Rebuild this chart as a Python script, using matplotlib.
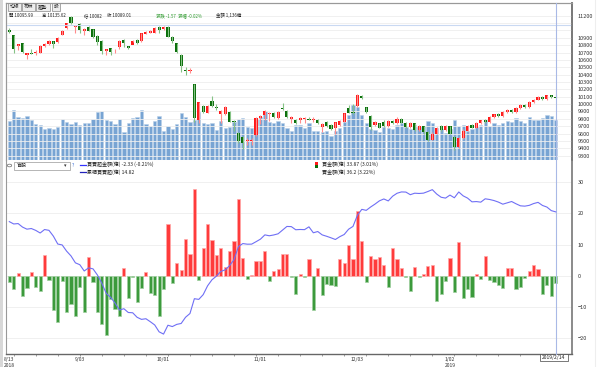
import numpy as np
import matplotlib.pyplot as plt
from matplotlib.patches import Rectangle

plt.rcParams['font.family'] = ['Noto Sans CJK TC', 'DejaVu Sans']

# daily candles (TAIEX), 2018/8/13 .. 2019/2/14
opens = [11006, 10938, 10789, 10825, 10671, 10694, 10689, 10698, 10793, 10811,
         10857, 10848, 10938, 11029, 11178, 11042, 11087, 10988, 11051, 11015,
         10925, 10861, 10721, 10757, 10717, 10771, 10870, 10789, 10802, 10870,
         10852, 10952, 10970, 10970, 11051, 11015, 11051, 10916, 10825, 10667,
         10463, 10450, 10269, 9785, 9979, 9884, 10043, 9966, 9866, 9862,
         9898, 9776, 9613, 9559, 9500, 9505, 9581, 9807, 9853, 9862,
         9884, 9807, 9952, 9911, 9803, 9785, 9785, 9800, 9800, 9790,
         9785, 9694, 9762, 9717, 9672, 9717, 9762, 9952, 9898, 9975,
         10110, 9957, 9839, 9717, 9740, 9760, 9700, 9770, 9740, 9800,
         9750, 9690, 9740, 9650, 9700, 9620, 9520, 9600, 9700, 9650,
         9700, 9560, 9420, 9540, 9640, 9720, 9680, 9740, 9790, 9760,
         9820, 9870, 9840, 9890, 9920, 9890, 9950, 9990, 9960, 10030,
         10060, 10100, 10070, 10120, 10095.99]
closes = [10979, 10744, 10816, 10712, 10689, 10680, 10707, 10789, 10811, 10857,
          10811, 10902, 10992, 11096, 11096, 11069, 11006, 11024, 10997, 10916,
          10848, 10726, 10744, 10712, 10726, 10861, 10825, 10757, 10852, 10825,
          10961, 10979, 10992, 11029, 11006, 11051, 10916, 10861, 10712, 10517,
          10450, 10463, 9807, 10033, 9889, 9975, 9975, 9943, 9907, 9966,
          9762, 9762, 9504, 9477, 9513, 9515, 9816, 9839, 9907, 9884,
          9821, 9898, 9939, 9830, 9830, 9740, 9807, 9810, 9790, 9805,
          9740, 9730, 9703, 9658, 9753, 9771, 9875, 9884, 9875, 10124,
          10080, 9898, 9694, 9762, 9680, 9700, 9770, 9740, 9800, 9750,
          9690, 9740, 9650, 9700, 9620, 9520, 9600, 9670, 9650, 9700,
          9600, 9420, 9540, 9640, 9700, 9680, 9740, 9780, 9760, 9820,
          9860, 9840, 9890, 9920, 9890, 9950, 9990, 9960, 10030, 10060,
          10100, 10070, 10120, 10090, 10089.01]
highs = [11029, 10938, 10816, 10825, 10698, 10748, 10734, 10798, 10825, 10870,
         10857, 10916, 11006, 11106, 11190, 11074, 11096, 11033, 11060, 11024,
         10938, 10870, 10753, 10765, 10753, 10870, 10880, 10795, 10870, 10880,
         10970, 10988, 11006, 11042, 11060, 11060, 11060, 10925, 10834, 10676,
         10508, 10490, 10269, 10033, 9988, 9984, 10110, 9998, 9920, 9975,
         9907, 9785, 9625, 9568, 9536, 9540, 9830, 9853, 9920, 9898,
         9898, 9907, 10011, 9920, 9839, 9794, 9830, 9830, 9820, 9830,
         9794, 9740, 9770, 9725, 9762, 9785, 9884, 9988, 9998, 10138,
         10120, 9966, 9853, 9771, 9750, 9780, 9790, 9790, 9820, 9810,
         9760, 9760, 9745, 9720, 9710, 9630, 9620, 9690, 9720, 9720,
         9710, 9570, 9560, 9660, 9720, 9730, 9760, 9790, 9800, 9840,
         9870, 9880, 9900, 9930, 9930, 9960, 10000, 10000, 10040, 10070,
         10110, 10110, 10130, 10130, 10135.62]
lows = [10961, 10689, 10735, 10689, 10608, 10676, 10667, 10689, 10780, 10798,
        10757, 10834, 10934, 11015, 11090, 10970, 10961, 10938, 10988, 10893,
        10802, 10680, 10662, 10662, 10689, 10753, 10780, 10750, 10845, 10815,
        10845, 10945, 10965, 10960, 10961, 11006, 10906, 10825, 10698, 10440,
        10395, 10418, 9762, 9739, 9876, 9875, 9966, 9920, 9740, 9853,
        9753, 9640, 9468, 9387, 9446, 9446, 9568, 9730, 9785, 9776,
        9808, 9794, 9920, 9808, 9748, 9726, 9740, 9740, 9780, 9760,
        9726, 9626, 9690, 9645, 9600, 9703, 9753, 9875, 9866, 9966,
        10070, 9885, 9650, 9703, 9670, 9690, 9690, 9730, 9730, 9740,
        9680, 9680, 9640, 9640, 9600, 9500, 9510, 9590, 9630, 9640,
        9590, 9380, 9410, 9530, 9630, 9670, 9670, 9730, 9750, 9750,
        9810, 9830, 9830, 9880, 9880, 9880, 9940, 9950, 9950, 10020,
        10050, 10060, 10060, 10080, 10082]
# turnover (億)
volume = [1116, 1420, 1230, 1193, 1258, 1136, 1022, 1003, 880, 897,
          869, 946, 1153, 1068, 1022, 1088, 1003, 1040, 1051, 1173,
          1363, 1400, 1145, 1116, 1031, 1153, 804, 1051, 1181, 1210,
          1420, 1022, 965, 1098, 1238, 832, 965, 889, 1011, 1343,
          1210, 1088, 1136, 1354, 1051, 1022, 1041, 861, 1117, 909,
          928, 1070, 1164, 1193, 947, 900, 1164, 1212, 1382, 1070,
          1060, 1098, 1041, 909, 814, 1003, 994, 900, 1051, 833,
          833, 795, 833, 691, 814, 909, 1070, 1288, 1552, 1496,
          1288, 1041, 880, 861, 786, 950, 900, 880, 1000, 1050,
          930, 870, 1000, 930, 980, 1100, 1050, 900, 880, 760,
          880, 1150, 960, 1000, 820, 880, 950, 1000, 1150, 960,
          1060, 1000, 1050, 1120, 1080, 1200, 1100, 1050, 1230, 1150,
          1130, 1200, 1280, 1250, 1136]
# 官股 net buy/sell (億)
net = [-2.2, -4.4, 0.75, -6.6, -3.9, 1.2, -3.5, -4.9, 6.5, -1.5,
       -10.9, -14.8, -1.7, -11.6, -9.0, -13.0, -3.5, -11.8, 5.9, -1.9,
       -11.6, -15.4, -19.1, -7.4, -10.8, -12.9, 2.4, -7.1, -0.5, -8.5,
       -3.9, 1.2, -5.6, -6.1, -12.9, -4.2, 16.6, -2.5, 4.1, 1.7,
       11.7, 7.0, 27.8, -1.3, 8.9, 16.6, 11.4, 6.7, 8.9, 2.9,
       8.0, 11.2, 24.6, 5.6, -1.2, 0.1, 4.6, 4.8, 8.0, -1.7,
       1.5, 2.2, 6.9, 6.9, -0.3, -5.9, 0.5, -0.3, 5.3, -11.2,
       2.4, -6.3, -2.6, -2.9, -3.2, 5.3, 4.1, 9.9, 5.3, 20.9,
       11.1, -1.9, 6.3, 5.5, 6.1, 3.5, -3.7, 8.9, 5.5, 2.5,
       -0.3, -4.9, 2.8, -0.5, 0.6, 3.1, 3.5, -8.3, -6.0, -1.6,
       5.7, -5.1, 10.9, -7.3, -4.2, -7.0, 0.5, -1.1, 6.3, -1.3,
       -2.0, -2.9, -3.9, 2.5, 2.5, -4.3, -3.8, -0.6, 1.5, 3.4,
       2.2, -5.8, -3.0, -6.7, -2.33]
cum = np.cumsum(net)

tick_idx = [0, 15, 34, 56, 78, 99]
tick_lab = ['8/13', '9/03', '10/01', '11/01', '12/03', '1/02']
year_idx = [0, 99]
year_lab = ['2018', '2019']

W, H = 600, 367


def box(x0, y0, x1, y1):
    return [x0 / W, 1 - y1 / H, (x1 - x0) / W, (y1 - y0) / H]


RED, GREEN = '#ff1a1a', '#0a6e0a'
fig = plt.figure(figsize=(6, 3.67), dpi=100)
fig.patch.set_facecolor('white')

x = np.arange(len(opens))
xl = (-0.75, 127.7)

# ---------- top panel ----------
ax = fig.add_axes(box(6, 3, 572, 160))
axv = ax.twinx()
axv.set_zorder(0)
ax.set_zorder(1)
ax.patch.set_visible(False)
axv.bar(x, volume, width=0.74, color='#78a4d3', edgecolor='#b9d0e8', linewidth=0.4)
axv.set_ylim(0, 4460)
axv.set_yticks([])
ax.set_xlim(*xl)
axv.set_xlim(*xl)
ax.set_ylim(9242, 11372)

o = np.array(opens); c = np.array(closes)
up = c >= o
cols = np.where(up, RED, GREEN)
wcols = np.where(up, '#ff8c8c', '#86c386')
ax.vlines(x, lows, highs, colors=wcols, linewidth=0.8)
body = np.maximum(np.abs(c - o), 6)
ax.bar(x, body, bottom=np.minimum(o, c), width=0.72, color=cols, linewidth=0)

pt = np.arange(9300, 11201, 100)
ax.set_yticks(pt)
ax.set_yticklabels([str(p) if p not in (11000, 11100) else '' for p in pt])
ax.yaxis.tick_right()
ax.tick_params(axis='y', length=0, labelsize=4, pad=4, labelcolor='#333333')
ax.set_xticks([])
ax.grid(axis='y', color='#eeeeee', linewidth=0.6)
ax.set_axisbelow(True)
ax.axhline(11067, color='#c9d9f2', linewidth=0.8)
for a in (ax, axv):
    a.spines['bottom'].set_visible(False)
    a.spines['top'].set_color('#999999')
    a.spines['left'].set_color('#999999')
    a.spines['right'].set_color('#777777')
    a.spines['right'].set_linewidth(1.2)

# ---------- bottom panel ----------
bx = fig.add_axes(box(6, 160, 572, 354))
cx = bx.twinx()
cx.set_zorder(2)
cx.patch.set_visible(False)

net_a = np.array(net)
ncol = np.where(net_a >= 0, '#ff3b3b', '#3c9a3c')
necol = np.where(net_a >= 0, '#ffa8a8', '#9fd09f')
bx.bar(x, net, width=0.72, color=ncol, edgecolor=necol, linewidth=0.5)
bx.set_xlim(*xl)
bx.set_ylim(-25.2, 37.2)
bx.set_yticks([-20, -10, 0, 10, 20, 30])
bx.yaxis.tick_right()
bx.tick_params(axis='y', length=0, labelsize=4, pad=4, labelcolor='#333333',
               left=False, labelleft=False, right=False, labelright=True)
bx.grid(axis='y', color='#eeeeee', linewidth=0.6)
bx.set_axisbelow(True)
bx.set_xticks([k * 5 + 1 for k in range(26)])
bx.set_xticklabels([])
bx.tick_params(axis='x', length=1.5, width=0.5, color='#777777', direction='out')
bx.spines['top'].set_visible(False)
bx.spines['left'].set_color('#999999')
bx.spines['right'].set_color('#777777')
bx.spines['right'].set_linewidth(1.2)
bx.spines['bottom'].set_color('#666666')
bx.spines['bottom'].set_linewidth(1.0)

cx.plot(x, cum, color='#6f6ff5', linewidth=0.8)
cx.set_ylim(5.835 * -25.2 - 103.6, 5.835 * 37.2 - 103.6)
cx.set_yticks([])
cx.set_xlim(*xl)
for s in cx.spines.values():
    s.set_visible(False)

for i, lab in zip(tick_idx, tick_lab):
    bx.text(i + (1 if i else 0), -27.0, lab, ha='center', va='center', fontsize=3.6, color='#333333')
for i, lab in zip(year_idx, year_lab):
    bx.text(i + (1 if i else 0), -28.9, lab, ha='center', va='center', fontsize=3.6, color='#333333')

# crosshair at last day
fig.add_artist(plt.Line2D([555.7 / W] * 2, [1 - 354 / H, 1 - 3 / H], color='#a9b9e6', linewidth=0.8))
fig.add_artist(Rectangle((540 / W, 1 - 361 / H), 28 / W, 7 / H, facecolor='white',
                         edgecolor='#444444', linewidth=0.5))
fig.text(554 / W, 1 - 357.5 / H, '2019/2/14', fontsize=3.6, ha='center', va='center', color='#222222')

# left grey strip and right faint line
fig.add_artist(Rectangle((0, 0), 3 / W, 1, facecolor='#d8d8d8', edgecolor='none'))
fig.add_artist(plt.Line2D([595 / W] * 2, [0, 1], color='#eeeeee', linewidth=0.8))

# ---------- header ----------
for (x0, x1), t in zip([(8, 21), (22, 35), (36, 50), (52, 60)], ['均線', '布林', '趨勢', '設']):
    fig.add_artist(Rectangle((x0 / W, 1 - 10.5 / H), (x1 - x0) / W, 7.5 / H, facecolor='#eeeeee',
                             edgecolor='#888888', linewidth=0.5))
    fig.text((x0 + x1) / 2 / W, 1 - 6.8 / H, t, fontsize=3.4, ha='center', va='center', color='#222222')

hy = 1 - 15.7 / H
head = [(9, '開 10095.99', '#222222'), (41.5, '高 10135.62', '#222222'),
        (84.5, '低 10082', '#222222'), (107, '收 10089.01', '#222222'),
        (156, '漲跌 -1.57', '#2e9a2e'), (178, '漲幅 -0.02%', '#2e9a2e'),
        (216.5, '金額 1,136億', '#222222')]
for hx, t, col in head:
    fig.text(hx / W, hy, t, fontsize=3.2, va='center', color=col)

# ---------- legend row of lower panel ----------
ly1, ly2 = 1 - 164.5 / H, 1 - 171.8 / H
fig.add_artist(plt.Circle((9.5 / W, 1 - 165.5 / H), 2.2 / W, facecolor='white', edgecolor='#666666',
                          linewidth=0.5, transform=fig.transFigure))
fig.add_artist(Rectangle((14 / W, 1 - 169.5 / H), 56 / W, 8 / H, facecolor='white',
                         edgecolor='#999999', linewidth=0.5))
fig.text(17 / W, 1 - 165.5 / H, '官股', fontsize=3.6, va='center', color='#222222')
fig.text(64 / W, 1 - 165.5 / H, '▾', fontsize=3.6, va='center', color='#333333')
fig.text(72 / W, 1 - 165.5 / H, '?', fontsize=3.6, va='center', color='#3a6fd8')
fig.add_artist(plt.Line2D([80 / W, 86 / W], [ly1, ly1], color='#3333ff', linewidth=0.9))
fig.add_artist(plt.Line2D([80 / W, 86 / W], [ly2, ly2], color='#2222bb', linewidth=0.9))
fig.text(87 / W, ly1, '買賣超金額(億) -2.33 (-0.21%)', fontsize=3.6, va='center', color='#222222')
fig.text(87 / W, ly2, '累積買賣超(億) 14.82', fontsize=3.6, va='center', color='#222222')
fig.add_artist(Rectangle((315 / W, 1 - 165 / H), 2.5 / W, 2.6 / H, facecolor=RED, edgecolor='none'))
fig.add_artist(Rectangle((315 / W, 1 - 167.6 / H), 2.5 / W, 2.6 / H, facecolor=GREEN, edgecolor='none'))
fig.text(322 / W, ly1, '買金額(億) 33.87 (3.01%)', fontsize=3.6, va='center', color='#222222')
fig.text(322 / W, ly2, '賣金額(億) 36.2 (3.22%)', fontsize=3.6, va='center', color='#222222')

fig.savefig('out.png', dpi=100)
